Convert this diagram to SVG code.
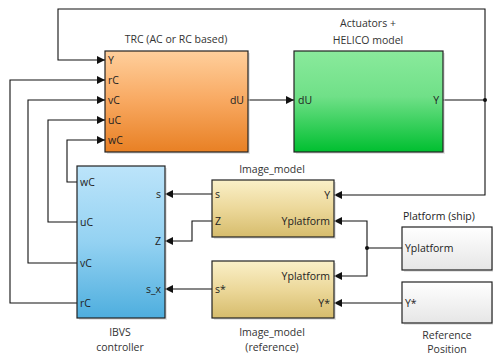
<svg xmlns="http://www.w3.org/2000/svg" width="493" height="357" viewBox="0 0 493 357">
<style>
text{font-family:"Open Sans","Noto Sans",sans-serif;font-size:10.5px;fill:#222}
.t{text-anchor:middle;fill:#333}
.r{text-anchor:end}
.blk{stroke:#222;stroke-width:1.2}
.w{fill:none;stroke:#111;stroke-width:1.1}
</style>
<defs>
<linearGradient id="go" x1="0" y1="0" x2="0" y2="1"><stop offset="0" stop-color="#ffcf9c"/><stop offset="0.5" stop-color="#f8a860"/><stop offset="1" stop-color="#e88024"/></linearGradient>
<linearGradient id="gg" x1="0" y1="0" x2="0" y2="1"><stop offset="0" stop-color="#8aea9c"/><stop offset="0.45" stop-color="#70e088"/><stop offset="1" stop-color="#00bf30"/></linearGradient>
<linearGradient id="gb" x1="0" y1="0" x2="0" y2="1"><stop offset="0" stop-color="#bce4fa"/><stop offset="0.5" stop-color="#94d2f2"/><stop offset="1" stop-color="#4eaede"/></linearGradient>
<linearGradient id="gy" x1="0" y1="0" x2="0" y2="1"><stop offset="0" stop-color="#faf0c8"/><stop offset="0.5" stop-color="#ecd89a"/><stop offset="1" stop-color="#d6bc6c"/></linearGradient>
<linearGradient id="gw" x1="0" y1="0" x2="0" y2="1"><stop offset="0" stop-color="#ffffff"/><stop offset="1" stop-color="#e6e6e6"/></linearGradient>
<marker id="a" viewBox="0 0 10 10" refX="10" refY="5" markerWidth="8" markerHeight="8" markerUnits="userSpaceOnUse" orient="auto"><path d="M0,0 L10,5 L0,10 z" fill="#111"/></marker>
</defs>
<rect width="493" height="357" fill="#fff"/>

<g id="connectors">
<polyline class="w" points="485,100 485,9 58,9 58,60 105,60" marker-end="url(#a)"/>
<polyline class="w" points="77,303 10,303 10,80 105,80" marker-end="url(#a)"/>
<polyline class="w" points="77,263 28,263 28,100 105,100" marker-end="url(#a)"/>
<polyline class="w" points="77,222 48,222 48,120 105,120" marker-end="url(#a)"/>
<polyline class="w" points="77,182 67,182 67,140 105,140" marker-end="url(#a)"/>
<polyline class="w" points="248,100 294,100" marker-end="url(#a)"/>
<polyline class="w" points="443,100 485,100"/>
<polyline class="w" points="485,100 485,195 334,195" marker-end="url(#a)"/>
<circle cx="485" cy="100" r="2" fill="#111"/>
<polyline class="w" points="212,194 165,194" marker-end="url(#a)"/>
<polyline class="w" points="212,221 192,221 192,241 165,241" marker-end="url(#a)"/>
<polyline class="w" points="212,289 165,289" marker-end="url(#a)"/>
<polyline class="w" points="402,248 367,248"/>
<polyline class="w" points="367,248 367,221 334,221" marker-end="url(#a)"/>
<polyline class="w" points="367,248 367,276 334,276" marker-end="url(#a)"/>
<circle cx="367" cy="248" r="2" fill="#111"/>
<polyline class="w" points="402,303 334,303" marker-end="url(#a)"/>
</g>

<g id="trc">
<rect x="107" y="53" width="143" height="101" fill="#ccc" opacity="0.5"/>
<rect class="blk" x="105" y="51" width="143" height="101" fill="url(#go)"/>
<text class="t" x="176" y="43">TRC (AC or RC based)</text>
<text x="108" y="64">Y</text>
<text x="108" y="84">rC</text>
<text x="108" y="104">vC</text>
<text x="108" y="124">uC</text>
<text x="108" y="144">wC</text>
<text class="r" x="244" y="104">dU</text>
</g>

<g id="helico">
<rect x="296" y="53" width="149" height="101" fill="#ccc" opacity="0.5"/>
<rect class="blk" x="294" y="51" width="149" height="101" fill="url(#gg)"/>
<text class="t" x="368" y="27">Actuators +</text>
<text class="t" x="368" y="44">HELICO model</text>
<text x="298" y="104">dU</text>
<text class="r" x="439" y="104">Y</text>
</g>

<g id="ibvs">
<rect x="79" y="168" width="88" height="152" fill="#ccc" opacity="0.5"/>
<rect class="blk" x="77" y="166" width="88" height="152" fill="url(#gb)"/>
<text x="80" y="186">wC</text>
<text x="80" y="226">uC</text>
<text x="80" y="267">vC</text>
<text x="80" y="307">rC</text>
<text class="r" x="161" y="198">s</text>
<text class="r" x="161" y="245">Z</text>
<text class="r" x="161" y="293">s_x</text>
<text class="t" x="120" y="336">IBVS</text>
<text class="t" x="120" y="351">controller</text>
</g>

<g id="image_model">
<rect x="214" y="182" width="122" height="57" fill="#ccc" opacity="0.5"/>
<rect class="blk" x="212" y="180" width="122" height="57" fill="url(#gy)"/>
<text class="t" x="272" y="173">Image_model</text>
<text x="215" y="198">s</text>
<text x="215" y="225">Z</text>
<text class="r" x="330" y="199">Y</text>
<text class="r" x="330" y="225">Yplatform</text>
</g>

<g id="image_model_ref">
<rect x="214" y="263" width="122" height="57" fill="#ccc" opacity="0.5"/>
<rect class="blk" x="212" y="261" width="122" height="57" fill="url(#gy)"/>
<text x="215" y="293">s*</text>
<text class="r" x="330" y="280">Yplatform</text>
<text class="r" x="330" y="307">Y*</text>
<text class="t" x="272" y="336">Image_model</text>
<text class="t" x="272" y="351">(reference)</text>
</g>

<g id="platform">
<rect x="404" y="229" width="90" height="43" fill="#ccc" opacity="0.5"/>
<rect class="blk" x="402" y="227" width="90" height="43" fill="url(#gw)"/>
<text x="403" y="220">Platform (ship)</text>
<text x="405" y="252">Yplatform</text>
</g>

<g id="reference_position">
<rect x="404" y="284" width="90" height="41" fill="#ccc" opacity="0.5"/>
<rect class="blk" x="402" y="282" width="90" height="41" fill="url(#gw)"/>
<text x="405" y="307">Y*</text>
<text class="t" x="447" y="339">Reference</text>
<text class="t" x="447" y="353">Position</text>
</g>
</svg>
